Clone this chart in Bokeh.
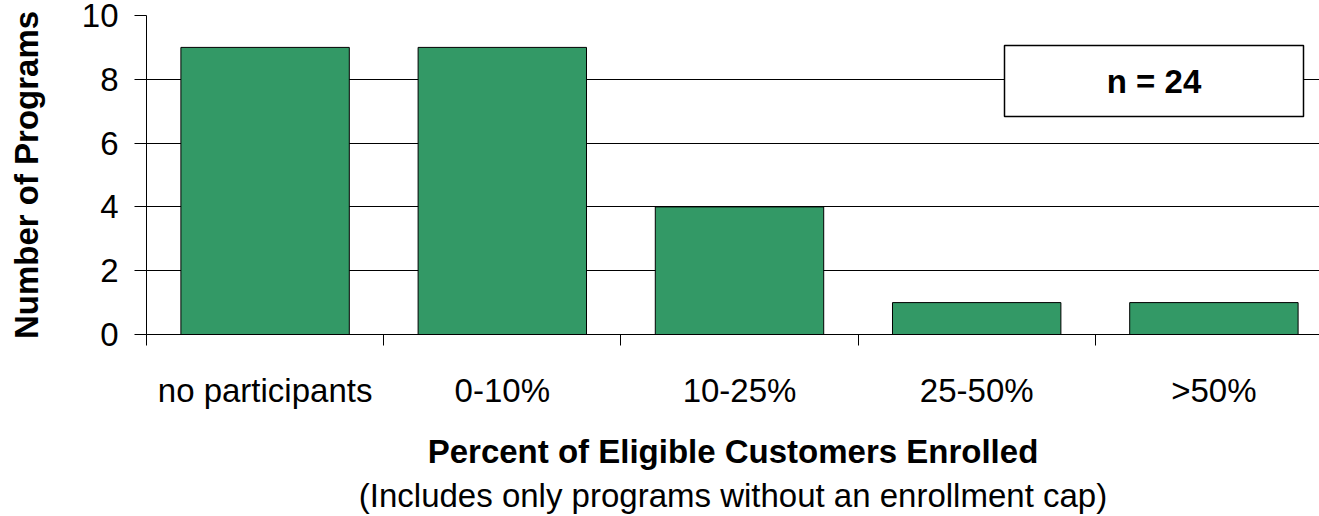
from bokeh.plotting import figure
from bokeh.models import Range1d, FixedTicker, Label, BoxAnnotation, LinearAxis
from bokeh.embed import file_html
from bokeh.resources import INLINE

categories = ["no participants", "0-10%", "10-25%", "25-50%", ">50%"]
programs = [9, 9, 4, 1, 1]
y_ticks = [0, 2, 4, 6, 8, 10]
n_text = "n = 24"
x_title = "Percent of Eligible Customers Enrolled"
x_subtitle = "(Includes only programs without an enrollment cap)"
y_title = "Number of Programs"

FONT = "Liberation Sans"
FS = "33px"
W, H = 1319, 516
left, top, bottom = 146, 15, 182
cat_px = 237.2
ncat = len(categories)
centers = [i + 0.5 for i in range(ncat)]
px_per_y = (H - top - bottom) / 10.0

p = figure(width=W, height=H, output_backend="svg", toolbar_location=None,
           x_range=Range1d(0, (W - left) / cat_px), y_range=Range1d(0, 10),
           min_border_left=left, min_border_right=0, min_border_top=top,
           min_border_bottom=bottom)
p.outline_line_color = None
p.background_fill_color = "white"
p.border_fill_color = "white"

p.vbar(x=centers, top=programs, width=0.71, fill_color="#339966",
       line_color="black", line_width=1)

# x axis
xa = p.xaxis[0]
xa.ticker = FixedTicker(ticks=centers, minor_ticks=list(range(ncat + 1)))
xa.major_label_overrides = {c: lab for c, lab in zip(centers, categories)}
xa.major_tick_line_color = None
xa.major_tick_out = 0
xa.major_tick_in = 0
xa.minor_tick_out = 11
xa.minor_tick_in = 0
xa.minor_tick_line_color = "black"
xa.axis_line_color = "black"
xa.major_label_text_font = FONT
xa.major_label_text_font_size = FS
xa.major_label_text_color = "black"
xa.major_label_standoff = 26
xa.axis_label = x_title
xa.axis_label_text_font = FONT
xa.axis_label_text_font_size = FS
xa.axis_label_text_font_style = "bold"
xa.axis_label_text_color = "black"
xa.axis_label_standoff = 21

# subtitle as a second, bare axis below
sub = LinearAxis(ticker=FixedTicker(ticks=[]), axis_line_color=None,
                 major_tick_line_color=None, minor_tick_line_color=None,
                 major_label_text_font_size="0px", major_tick_out=0,
                 minor_tick_out=0, major_label_standoff=0,
                 axis_label=x_subtitle, axis_label_text_font=FONT,
                 axis_label_text_font_size=FS, axis_label_text_color="black",
                 axis_label_text_font_style="normal", axis_label_standoff=4)
p.add_layout(sub, "below")

# y axis
ya = p.yaxis[0]
ya.ticker = FixedTicker(ticks=y_ticks)
ya.major_tick_out = 12
ya.major_tick_in = 0
ya.minor_tick_line_color = None
ya.axis_line_color = "black"
ya.major_tick_line_color = "black"
ya.major_label_text_font = FONT
ya.major_label_text_font_size = FS
ya.major_label_text_color = "black"
ya.major_label_standoff = 16
ya.axis_label = y_title
ya.axis_label_text_font = FONT
ya.axis_label_text_font_size = FS
ya.axis_label_text_font_style = "bold"
ya.axis_label_text_color = "black"
ya.axis_label_standoff = 34

p.xgrid.grid_line_color = None
p.ygrid.ticker = FixedTicker(ticks=y_ticks)
p.ygrid.grid_line_color = "black"
p.ygrid.grid_line_width = 1

# n box
bx0, bx1 = (1004 - left) / cat_px, (1303 - left) / cat_px
by0, by1 = (334 - 116) / px_per_y, (334 - 45) / px_per_y
p.add_layout(BoxAnnotation(left=bx0, right=bx1, bottom=by0, top=by1,
                           fill_color="white", fill_alpha=1.0,
                           line_color="black", line_alpha=1.0, line_width=1.5))
p.add_layout(Label(x=(bx0 + bx1) / 2, y=(by0 + by1) / 2, text=n_text,
                   text_font=FONT, text_font_size=FS, text_font_style="bold",
                   text_align="center", text_baseline="middle", text_color="black"))

open("out.html", "w").write(file_html(p, INLINE))
